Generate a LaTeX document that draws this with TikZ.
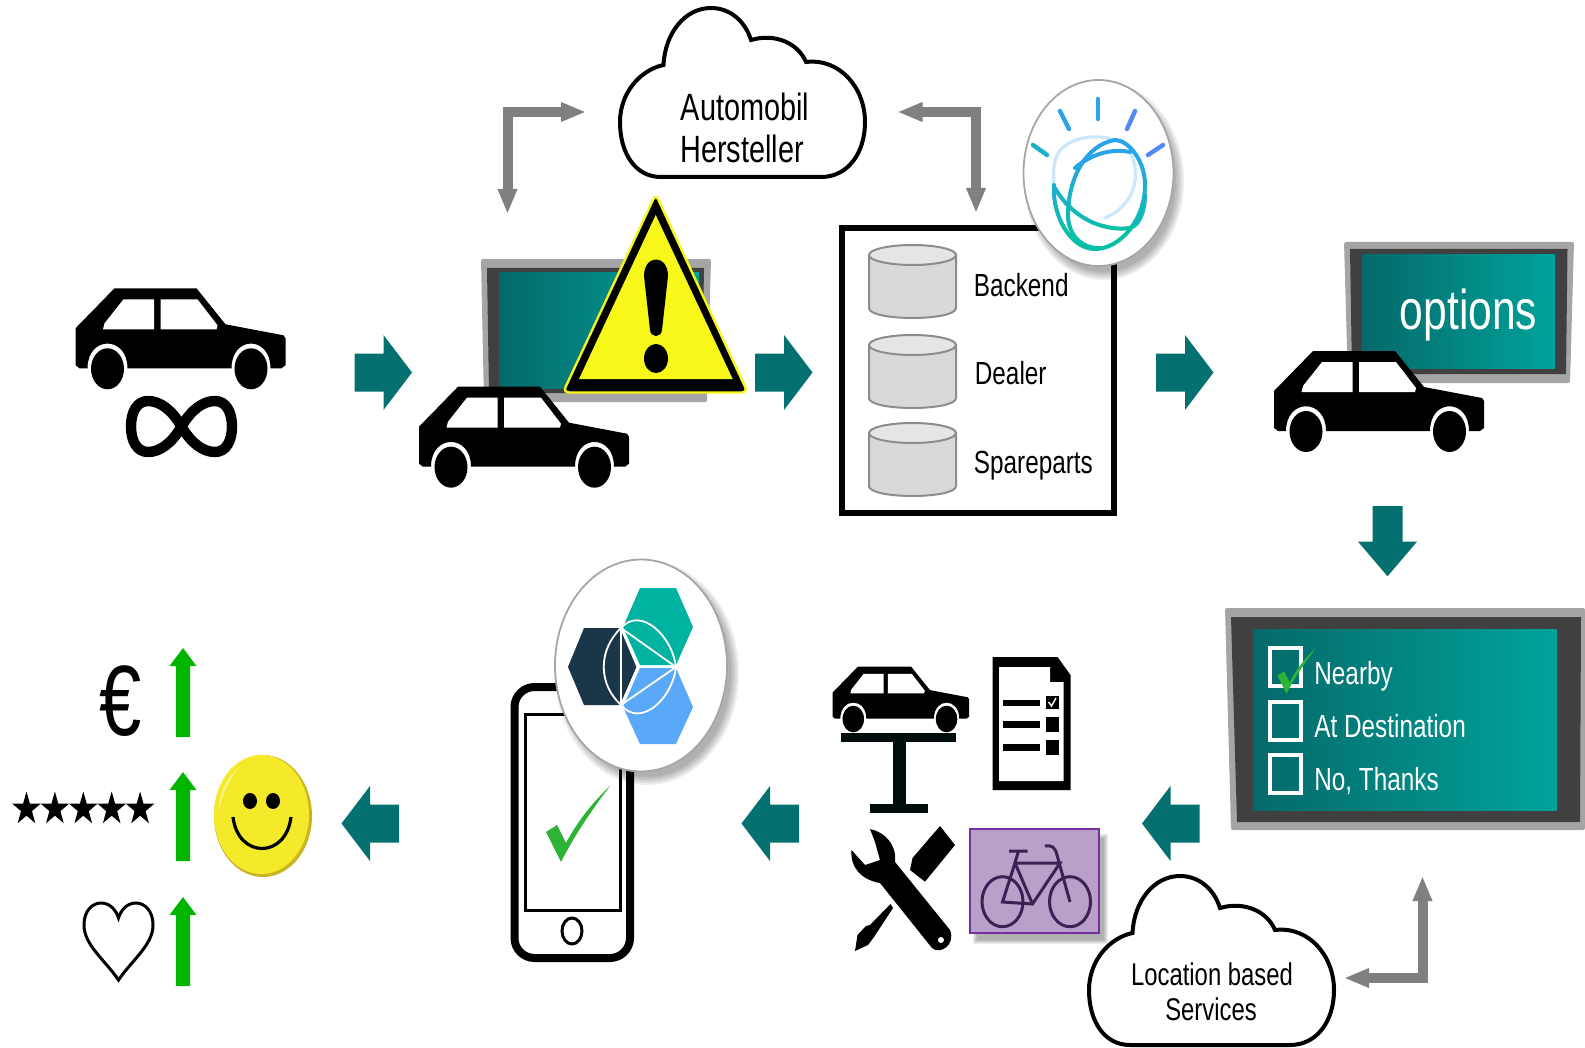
\documentclass[tikz,border=0pt]{standalone}
\usepackage{fontspec}
\setmainfont[FakeStretch=0.76]{Liberation Sans}
\usetikzlibrary{arrows.meta}
\definecolor{arrowteal}{HTML}{04706F}
\definecolor{tealdark}{HTML}{05696A}
\definecolor{teallight}{HTML}{00A39B}
\definecolor{framegray}{HTML}{A5A5A5}
\definecolor{framedark}{HTML}{404040}
\definecolor{elbowgray}{HTML}{808080}
\definecolor{warnyellow}{HTML}{F7F719}
\definecolor{checkgreen}{HTML}{2DB336}
\definecolor{upgreen}{HTML}{00B400}
\definecolor{bikefill}{HTML}{B8A0C8}
\definecolor{bikeline}{HTML}{3A2255}
\definecolor{bikeframe}{HTML}{7030A0}
\definecolor{mixteal}{HTML}{00B2A0}
\definecolor{mixnavy}{HTML}{1C3649}
\definecolor{mixblue}{HTML}{5AA9F8}
\definecolor{watsonblue}{HTML}{2AA4E8}
\definecolor{watsonteal}{HTML}{08BFA8}
\definecolor{smileface}{HTML}{F4EA2A}
\definecolor{smilerim}{HTML}{C9B521}
\tikzstyle{frameouter}=[fill=framegray, rounded corners=1pt]
\tikzstyle{framemid}=[fill=framedark]
\tikzstyle{screen}=[left color=tealdark, right color=teallight]
\tikzstyle{elbow}=[draw=elbowgray, line width=5pt, {Triangle[length=12.5pt,width=9pt]}-{Triangle[length=12.5pt,width=9pt]}]
\tikzstyle{disc}=[draw=black!35, line width=.9pt, fill=white]
\tikzstyle{softshade}=[fill=black, opacity=.07]
\tikzstyle{ring}=[line width=2pt, line cap=round]
\tikzstyle{palering}=[line width=1.6pt, line cap=round, watsonblue!25]
\tikzstyle{ray}=[line width=2.2pt, line cap=round]
\tikzstyle{cloudtext}=[anchor=base, inner sep=0pt, font=\fontsize{15.7}{18}\selectfont]
\tikzstyle{dbtext}=[anchor=base west, inner sep=0pt, font=\fontsize{16}{18}\selectfont]
\tikzstyle{screentext}=[anchor=base west, inner sep=0pt, text=white, font=\fontsize{16}{18}\selectfont]
\tikzstyle{tickbox}=[draw=white, line width=1.6pt]
\tikzset{
  flowarrow/.pic={\fill[arrowteal] (-29,-19) -- (0,-19) -- (0,-37.5) -- (28.5,0) -- (0,37.5) -- (0,19) -- (-29,19) -- cycle;},
  uparrow/.pic={\fill[upgreen] (0,0) -- (13.5,18) -- (7.2,18) -- (7.2,89) -- (-7.2,89) -- (-7.2,18) -- (-13.5,18) -- cycle;},
  carpic/.pic={
    \fill[black] (0,40) -- (39,0) -- (121,0) -- (150,36) -- (208,47) -- (210,50) -- (210,77) -- (206,80) -- (195,80)
      .. controls (195,47) and (156,47) .. (156,80) -- (52,80) .. controls (52,47) and (12,47) .. (12,80) -- (4,80) -- (0,77) -- cycle;
    \fill[black] (32,80.5) ellipse [x radius=16.5, y radius=20.5];
    \fill[black] (175.5,80.5) ellipse [x radius=16.5, y radius=20.5];
    \fill[white] (48,11) -- (78.5,11) -- (78.5,41) -- (27.5,41) -- (29,35) -- cycle;
    \fill[white] (85,11) -- (122,11) -- (142,37) -- (141,41) -- (85,41) -- cycle;
  },
  cloudpic/.pic={
    \draw[line width=2pt, fill=white] (41,169) .. controls (15,169) and (0,145) .. (0,114)
      .. controls (0,85) and (20,62) .. (43.5,57) .. controls (45,25) and (65,0) .. (91,0)
      .. controls (110,0) and (125,13) .. (131,32) .. controls (155,25) and (178,35) .. (186,54)
      .. controls (220,50) and (245,80) .. (245,114) .. controls (245,145) and (228,169) .. (201,169) -- cycle;
  },
  dbpic/.pic={
    \draw[draw=black!45, line width=1pt, fill=black!15] (0,10) -- (0,63) .. controls (0,76.3) and (87,76.3) .. (87,63) -- (87,10) -- cycle;
    \draw[draw=black!45, line width=1pt, fill=black!10] (43.5,10) ellipse [x radius=43.5, y radius=10];
  },
  checkpic/.pic={
    \fill[checkgreen] (0,46) -- (11,39) -- (20,57) .. controls (32,34) and (49,14) .. (64,0) .. controls (44,26) and (26,54) .. (15,76) -- cycle;
  },
  starpic/.pic={
    \fill[black] (0,-17.5) -- (3.4,-5.4) -- (14.3,-5.4) -- (5.5,2.1) -- (8.8,14.2) -- (0,6.7) -- (-8.8,14.2) -- (-5.5,2.1) -- (-14.3,-5.4) -- (-3.4,-5.4) -- cycle;
  }
}

\begin{document}
\begin{tikzpicture}[x=.5pt, y=-.5pt]
      \useasboundingbox (0,0) rectangle (1585,1048);

      \pic at (75.5,288.3) {carpic};
      \draw[line width=5.2pt] (181.5,426.5) .. controls (172,410) and (160,401) .. (148,401) .. controls (137,401) and (131,412) .. (131,426.5)
        .. controls (131,441) and (137,452) .. (148,452) .. controls (160,452) and (172,443) .. (181.5,426.5)
        .. controls (191,410) and (203,401) .. (215,401) .. controls (226,401) and (232,412) .. (232,426.5)
        .. controls (232,441) and (226,452) .. (215,452) .. controls (203,452) and (191,443) .. (181.5,426.5) -- cycle;

      \pic at (383.5,372.5) {flowarrow};
      \pic at (784,372.5) {flowarrow};
      \pic at (1185,372.5) {flowarrow};
      \pic[rotate=-90, xscale=1.22, yscale=.79] at (1387.5,541.5) {flowarrow};
      \pic[rotate=180] at (1170.5,823.5) {flowarrow};
      \pic[rotate=180] at (770,823.5) {flowarrow};
      \pic[rotate=180] at (370,823.5) {flowarrow};

      % monitor behind the warning sign
      \fill[frameouter] (481,259) -- (711,259) -- (707,402) -- (484,402) -- cycle;
      \fill[framemid] (487,268) -- (704,268) -- (702,393) -- (489,393) -- cycle;
      \fill[screen] (499,273) rectangle (699,388);
      \pic at (419,386.7) {carpic};
      \draw[fill=black, draw=warnyellow, line width=1.2pt, rounded corners=3pt] (655.7,194) -- (747.7,392.5) -- (563,392.5) -- cycle;
      \fill[warnyellow] (655.7,215) -- (732.7,379) -- (579,379) -- cycle;
      \fill[black] (644,276) .. controls (644,254) and (668,254) .. (668,276) -- (662,330) .. controls (661,338) and (651,338) .. (650,330) -- cycle;
      \fill[black] (656,358.5) ellipse [x radius=12, y radius=14.5];

      % top cloud and its two connectors
      \pic at (620,8) {cloudpic};
      \node[cloudtext, font=\fontsize{19}{22}\selectfont] (oem1) at (745,121) {Automobil};
      \node[cloudtext, font=\fontsize{19}{22}\selectfont] (oem2) at (742,163) {Hersteller};
      \coordinate (oemleft) at (586,112);
      \coordinate (carup) at (507.5,214);
      \coordinate (oemright) at (897.5,112);
      \coordinate (boxup) at (976,213);
      \draw[elbow] (oemleft) -| (carup);
      \draw[elbow] (oemright) -| (boxup);

      % backend box
      \draw[line width=3pt] (842,228) rectangle (1114,513);
      \pic at (869,245) {dbpic};
      \pic at (869,335) {dbpic};
      \pic at (869,423) {dbpic};
      \node[dbtext] (backend) at (973.5,297) {Backend};
      \node[dbtext] (dealer) at (974.5,384) {Dealer};
      \node[dbtext] (spare) at (973.5,473) {Spareparts};

      % watson badge
      \foreach \g in {0,...,4}
        \fill[softshade] (1104,181) ellipse [x radius=72+\g*2, y radius=91+\g*2];
      \draw[disc] (1098.5,173) ellipse [x radius=75, y radius=93];
      \draw[ray, watsonblue] (1098,99) -- (1098,119);
      \draw[ray, watsonblue] (1060,111) -- (1069,129);
      \draw[ray, watsonblue!60!blue!75] (1135,111) -- (1127,129);
      \draw[ray, watsonteal!50!watsonblue] (1033,145) -- (1047,155);
      \draw[ray, watsonblue!60!blue!75] (1163,145) -- (1148,155);
      \draw[palering] (1054,185) .. controls (1053,170) and (1054,165) .. (1056,158) .. controls (1062,140) and (1090,132) .. (1115,140);
      \draw[palering] (1130,152) .. controls (1142,175) and (1135,205) .. (1105,218);
      \foreach \ytop/\ybot/\mix in {130/165/100, 165/185/80, 185/205/55, 205/225/25, 225/255/0}
      {
        \begin{scope}
          \clip (1040,\ytop) rectangle (1160,\ybot);
          \draw[ring, watsonblue!\mix!watsonteal] (1054,185) .. controls (1052,215) and (1070,249) .. (1095,249) .. controls (1120,249) and (1145,220) .. (1145,185) .. controls (1145,160) and (1128,140) .. (1115,140);
          \draw[ring, watsonblue!\mix!watsonteal] (1115,140) .. controls (1085,145) and (1068,180) .. (1068,215) .. controls (1068,235) and (1082,249) .. (1100,248);
          \draw[ring, watsonblue!\mix!watsonteal] (1055,188) .. controls (1070,215) and (1100,232) .. (1130,228) .. controls (1140,225) and (1145,210) .. (1145,195);
          \draw[ring, watsonblue!\mix!watsonteal] (1075,168) .. controls (1090,155) and (1110,148) .. (1130,152);
        \end{scope}
      }

      % options screen
      \fill[frameouter] (1344,242) -- (1574,242) -- (1570,383) -- (1348,383) -- cycle;
      \fill[framemid] (1350,249) -- (1567.5,249) -- (1566,374) -- (1352,374) -- cycle;
      \fill[screen] (1362,255) rectangle (1555,368);
      \node[screentext, font=\fontsize{28}{32}\selectfont] (options) at (1399.5,329) {options};
      \pic at (1274,351) {carpic};

      % choice screen
      \fill[frameouter] (1225,608) -- (1585,608) -- (1585,830) -- (1231,830) -- cycle;
      \fill[framemid] (1231,617) -- (1581,617) -- (1580,822) -- (1237,822) -- cycle;
      \fill[screen] (1253,629) rectangle (1557,810);
      \draw[tickbox] (1270,648) rectangle (1301,686);
      \draw[tickbox] (1270,702) rectangle (1301,740);
      \draw[tickbox] (1270,755) rectangle (1301,793);
      \pic[scale=.6] at (1277.5,648) {checkpic};
      \node[screentext] (near) at (1314,684) {Nearby};
      \node[screentext] (dest) at (1314,737) {At Destination};
      \node[screentext] (nothanks) at (1314,790) {No, Thanks};

      % lower cloud
      \pic at (1089,876) {cloudpic};
      \node[cloudtext] (loc1) at (1212,985) {Location based};
      \node[cloudtext] (loc2) at (1211,1020) {Services};
      \coordinate (screenup) at (1422.5,876);
      \coordinate (cloudright) at (1344,978);
      \draw[elbow] (cloudright) -| (screenup);

      % lift, checklist, tools, bike
      \pic[scale=.65] at (832.5,666.7) {carpic};
      \fill[black!90!teal] (841,733) rectangle (956,742);
      \fill[black!90!teal] (892.5,742) rectangle (906,804);
      \fill[black!90!teal] (870,804) rectangle (927.5,813);

      \fill[black] (992.5,657) -- (1057.5,657) -- (1070.5,675) -- (1070.5,790) -- (992.5,790) -- cycle;
      \fill[white] (999,667) -- (1050,667) -- (1050,682) -- (1063.5,682) -- (1063.5,781) -- (999,781) -- cycle;
      \fill[black] (1002.5,700) rectangle (1040,706);
      \fill[black] (1002.5,721) rectangle (1040,728);
      \fill[black] (1002.5,744) rectangle (1040,751);
      \fill[black] (1046,696) rectangle (1058.5,709);
      \fill[black] (1046,717) rectangle (1058.5,732);
      \fill[black] (1046,740) rectangle (1058.5,755);
      \draw[white, line width=.7pt] (1048.5,702) -- (1051.5,706) -- (1056,698);

      \fill[black] (870,829) .. controls (885,832) and (897,845) .. (895,862) -- (950,930) .. controls (956,945) and (940,955) .. (932,948)
        -- (880,883) .. controls (862,880) and (850,868) .. (851.5,850) -- (865,865) -- (880,860) -- (875,842) -- cycle;
      \fill[white] (941,940) circle [radius=3];
      \fill[black] (940,826) -- (955,845) -- (925,881.7) -- (910,870) -- (912.5,858) -- cycle;
      \fill[black] (890.5,904) -- (893,908) -- (874,937) -- (868,945) -- (855,951) -- (857.5,935) -- (866,926) -- (870,925) -- cycle;

      \foreach \g in {0,...,4}
        \fill[softshade] (977-\g,838-\g) rectangle (1104+\g,940+\g);
      \draw[draw=bikeframe, line width=1pt, fill=bikefill] (970,829) rectangle (1099,933);
      \draw[bikeline, line width=1.5pt] (1002.5,901.7) ellipse [x radius=20.5, y radius=25];
      \draw[bikeline, line width=1.5pt] (1070,901.7) ellipse [x radius=20.5, y radius=25];
      \draw[bikeline, line width=1.5pt] (1015,863) -- (1060,863) -- (1032.5,904) -- (1002.5,902) -- (1015,863) -- (1032.5,904);
      \draw[bikeline, line width=1.5pt] (1045,846) .. controls (1052,845) and (1055,847) .. (1057,855) -- (1070,902);
      \draw[bikeline, line width=1.5pt] (1009,851) -- (1027.5,851) (1018.5,851) -- (1015,863);

      % phone with hexagon badge
      \draw[line width=4pt, rounded corners=10pt] (514.5,687) rectangle (630,958);
      \draw[line width=1.5pt] (525,714) rectangle (620.5,910);
      \draw[line width=1.5pt] (572,931) ellipse [x radius=10, y radius=13];
      \pic at (546,786) {checkpic};
      \foreach \g in {0,...,4}
        \fill[softshade] (647,673) ellipse [x radius=84+\g*2, y radius=104+\g*2];
      \draw[disc] (641,665.5) ellipse [x radius=86, y radius=106];
      \fill[mixteal] (640,588) -- (676,588) -- (693,627) -- (676,665) -- (640,665) -- (623,627) -- cycle;
      \fill[mixnavy] (584,628) -- (620.5,628) -- (637.5,667) -- (620.5,705) -- (584,705) -- (568,667) -- cycle;
      \fill[mixblue] (640,668) -- (676,668) -- (693,707) -- (676,744) -- (640,744) -- (623,707) -- cycle;
      \draw[white, line width=.9pt] (621,628) -- (637.5,667) -- (621,705) -- cycle;
      \draw[white, line width=.9pt] (637.5,667) -- (676,667);
      \draw[white, line width=.9pt] (621,628) -- (676,667) -- (621,705);
      \draw[white, line width=.9pt] (621,628) .. controls (598,650) and (598,684) .. (621,705);
      \draw[white, line width=.9pt] (621,628) .. controls (640,606) and (672,635) .. (676,667) .. controls (672,700) and (640,728) .. (621,705);

      % outcome column
      \node[anchor=base, inner sep=0pt, font=\fontsize{50}{52}\selectfont] (euro) at (120.5,735) {€};
      \pic at (183,648) {uparrow};
      \pic at (183,772) {uparrow};
      \pic at (183,897) {uparrow};
      \foreach \n in {0,...,4}
        \pic at (26.5+28.4*\n,809) {starpic};
      \draw[line width=1.5pt] (118.5,980) .. controls (105,960) and (84,945) .. (84,925) .. controls (84,910) and (93,903) .. (101,903)
        .. controls (110,903) and (116,910) .. (118.5,918) .. controls (121,910) and (127,903) .. (136,903)
        .. controls (144,903) and (153,910) .. (153,925) .. controls (153,945) and (132,960) .. (118.5,980) -- cycle;

      % smiley
      \fill[smilerim] (263,816) ellipse [x radius=49, y radius=61];
      \fill[smileface] (261.5,814.5) ellipse [x radius=47.5, y radius=59.5];
      \fill[smileface!55!white] (238,768) .. controls (226,778) and (219,795) .. (218,813) .. controls (222,795) and (229,780) .. (238,768) -- cycle;
      \fill[black] (250,801) ellipse [x radius=7, y radius=8];
      \fill[black] (273,801) ellipse [x radius=7, y radius=8];
      \draw[line width=1.6pt] (233,817) .. controls (238,859) and (286,859) .. (291,817);
\end{tikzpicture}
\end{document}
